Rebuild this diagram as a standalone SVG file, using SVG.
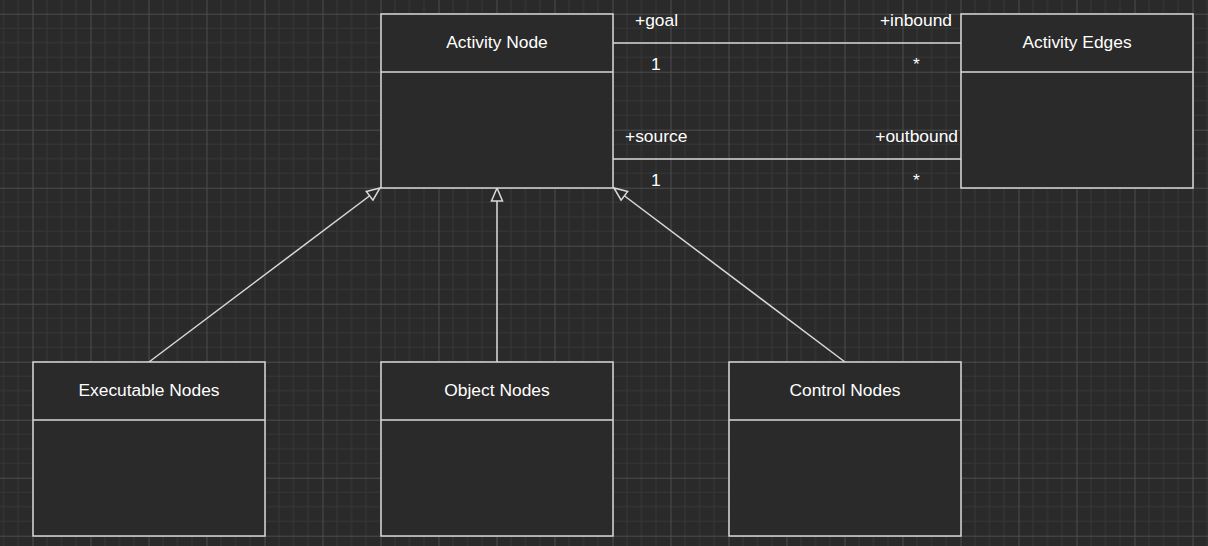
<svg xmlns="http://www.w3.org/2000/svg" width="1208" height="546" viewBox="0 0 1208 546">
<style>
.box{fill:#2a2a2a;stroke:#d9d9d9;stroke-width:1.5}
.div{stroke:#d9d9d9;stroke-width:1.5;fill:none}
.t{font-family:"Liberation Sans",Arial,sans-serif;font-size:17.4px;fill:#ffffff}
.c{text-anchor:middle}
.e{text-anchor:end}
.ln{stroke:#d9d9d9;stroke-width:1.5;fill:none}
</style>
<defs>
<pattern id="grid" x="32.5" y="13.7" width="58" height="58" patternUnits="userSpaceOnUse">
<path d="M14.5,0V58M29,0V58M43.5,0V58M0,14.5H58M0,29H58M0,43.5H58" stroke="#373737" stroke-width="1" fill="none"/>
<path d="M0.5,0V58M0,0.5H58" stroke="#4c4c4c" stroke-width="1" fill="none"/>
</pattern>
<marker id="tri" markerUnits="userSpaceOnUse" markerWidth="20" markerHeight="20" refX="14" refY="10" orient="auto" viewBox="0 0 20 20">
<path d="M14,10 L1,4.5 L1,15.5 Z" fill="#2a2a2a" stroke="#d9d9d9" stroke-width="1.5"/>
</marker>
</defs>
<rect width="1208" height="546" fill="#2a2a2a"/>
<rect width="1208" height="546" fill="url(#grid)"/>
<g id="connectors">
<line class="ln" x1="613" y1="43" x2="961" y2="43"/>
<line class="ln" x1="613" y1="159" x2="961" y2="159"/>
<line class="ln" x1="149" y1="362" x2="380" y2="188" marker-end="url(#tri)"/>
<line class="ln" x1="497" y1="362" x2="497" y2="188" marker-end="url(#tri)"/>
<line class="ln" x1="845" y1="362" x2="614" y2="188" marker-end="url(#tri)"/>
<text class="t" x="635" y="26">+goal</text>
<text class="t e" x="952" y="26">+inbound</text>
<text class="t" x="651" y="70">1</text>
<text class="t" x="913" y="70">*</text>
<text class="t" x="625" y="142">+source</text>
<text class="t e" x="958" y="142">+outbound</text>
<text class="t" x="651" y="186">1</text>
<text class="t" x="913" y="186">*</text>
</g>
<g id="activity-node">
<rect class="box" x="381" y="14" width="232" height="174"/>
<line class="div" x1="381" y1="72" x2="613" y2="72"/>
<text class="t c" x="497" y="48">Activity Node</text>
</g>
<g id="activity-edges">
<rect class="box" x="961" y="14" width="232" height="174"/>
<line class="div" x1="961" y1="72" x2="1193" y2="72"/>
<text class="t c" x="1077" y="48">Activity Edges</text>
</g>
<g id="executable-nodes">
<rect class="box" x="33" y="362" width="232" height="174"/>
<line class="div" x1="33" y1="420" x2="265" y2="420"/>
<text class="t c" x="149" y="396">Executable Nodes</text>
</g>
<g id="object-nodes">
<rect class="box" x="381" y="362" width="232" height="174"/>
<line class="div" x1="381" y1="420" x2="613" y2="420"/>
<text class="t c" x="497" y="396">Object Nodes</text>
</g>
<g id="control-nodes">
<rect class="box" x="729" y="362" width="232" height="174"/>
<line class="div" x1="729" y1="420" x2="961" y2="420"/>
<text class="t c" x="845" y="396">Control Nodes</text>
</g>
</svg>
